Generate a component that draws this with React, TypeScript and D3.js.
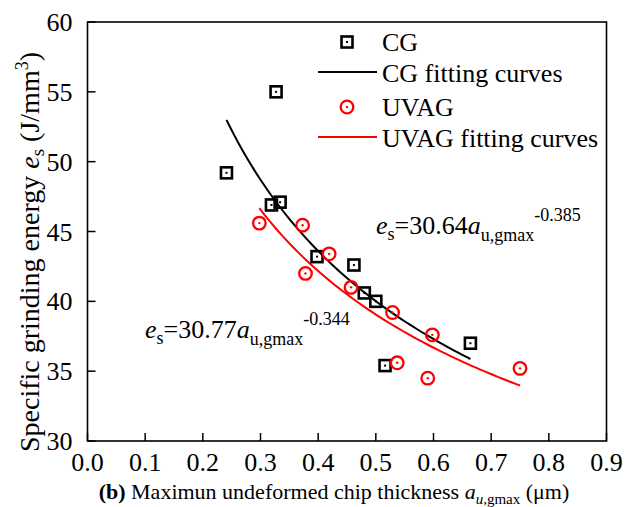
import React from 'react';
import * as d3 from 'd3';

const cgX = [0.241, 0.319, 0.327, 0.334, 0.398, 0.462, 0.48, 0.5, 0.516, 0.664];
const cgY = [49.2, 46.9, 55.0, 47.1, 43.2, 42.6, 40.6, 40.0, 35.4, 37.0];
const uvagX = [0.298, 0.373, 0.378, 0.419, 0.457, 0.529, 0.537, 0.59, 0.598, 0.75];
const uvagY = [45.6, 45.45, 42.0, 43.4, 41.0, 39.2, 35.6, 34.5, 37.6, 35.2];

// power law fits printed on the chart: e_s = k * a^n
const cgFit = {k: 30.64, n: -0.385, from: 0.241, to: 0.664};
const uvagFit = {k: 30.77, n: -0.344, from: 0.298, to: 0.75};

const xTicks = [0, 0.1, 0.2, 0.3, 0.4, 0.5, 0.6, 0.7, 0.8, 0.9];
const yTicks = [30, 35, 40, 45, 50, 55, 60];

const W = 632, H = 507;
const margin = {top: 22, right: 25.5, bottom: 66, left: 87.5};
const font = '"Liberation Serif", "Times New Roman", serif';
const RED = '#ff0000';

const x = d3.scaleLinear().domain([0, 0.9]).range([margin.left, W - margin.right]);
const y = d3.scaleLinear().domain([30, 60]).range([H - margin.bottom, margin.top]);

function fitPath(f: {k: number, n: number, from: number, to: number}) {
    const xs = d3.range(0, 61).map(i => f.from + (f.to - f.from) * i / 60);
    const line = d3.line<number>().x(d => x(d)).y(d => y(f.k * Math.pow(d, f.n)));
    return line(xs) || '';
}

const Square = ({cx, cy}: {cx: number, cy: number}) => (
    <g>
        <rect x={cx - 5.5} y={cy - 5.5} width={11} height={11} fill="none" stroke="#000" strokeWidth={2.6}/>
        <rect x={cx - 1} y={cy - 1} width={2} height={2} fill="#000"/>
    </g>
);

const Circle = ({cx, cy}: {cx: number, cy: number}) => (
    <g>
        <circle cx={cx} cy={cy} r={6.3} fill="none" stroke={RED} strokeWidth={2.3}/>
        <circle cx={cx} cy={cy} r={1.2} fill={RED}/>
    </g>
);

export default function App() {
    const x0 = margin.left, x1 = W - margin.right;
    const y0 = H - margin.bottom, y1 = margin.top;
    return (
        <svg width={W} height={H} style={{position: 'absolute', left: 0, top: 0, background: '#fff'}}
             fontFamily={font}>
            {/* ticks inside the frame, left and bottom only */}
            {xTicks.map(t => (
                <g key={'x' + t}>
                    <line x1={x(t)} x2={x(t)} y1={y0} y2={y0 - 8} stroke="#000" strokeWidth={1.5}/>
                    <text x={x(t)} y={y0 + 30} fontSize={26} textAnchor="middle">{d3.format('.1f')(t)}</text>
                </g>
            ))}
            {yTicks.map(t => (
                <g key={'y' + t}>
                    <line x1={x0} x2={x0 + 8} y1={y(t)} y2={y(t)} stroke="#000" strokeWidth={1.5}/>
                    <text x={x0 - 15} y={y(t) + 9} fontSize={26} textAnchor="end">{t}</text>
                </g>
            ))}
            <rect x={x0} y={y1} width={x1 - x0} height={y0 - y1} fill="none" stroke="#000" strokeWidth={1.6}/>

            {/* fit curves */}
            <path d={fitPath(cgFit)} fill="none" stroke="#000" strokeWidth={2}/>
            <path d={fitPath(uvagFit)} fill="none" stroke={RED} strokeWidth={2}/>

            {cgX.map((v, i) => <Square key={'c' + i} cx={x(v)} cy={y(cgY[i])}/>)}
            {uvagX.map((v, i) => <Circle key={'u' + i} cx={x(v)} cy={y(uvagY[i])}/>)}

            {/* legend */}
            <Square cx={347} cy={42}/>
            <text x={382} y={51} fontSize={26}>CG</text>
            <line x1={318} x2={377} y1={72} y2={72} stroke="#000" strokeWidth={2}/>
            <text x={382} y={82} fontSize={26}>CG fitting curves</text>
            <Circle cx={347} cy={107}/>
            <text x={382} y={116} fontSize={26}>UVAG</text>
            <line x1={318} x2={377} y1={137} y2={137} stroke={RED} strokeWidth={2}/>
            <text x={382} y={147} fontSize={26}>UVAG fitting curves</text>

            {/* fit equations */}
            <text x={376} y={234} fontSize={26}>
                <tspan fontStyle="italic">e</tspan>
                <tspan fontSize={18} dy={6}>s</tspan>
                <tspan dy={-6}>=30.64</tspan>
                <tspan fontStyle="italic">a</tspan>
                <tspan fontSize={18} dy={7}>u,gmax</tspan>
                <tspan fontSize={18} dy={-20}>-0.385</tspan>
            </text>
            <text x={145} y={338} fontSize={26}>
                <tspan fontStyle="italic">e</tspan>
                <tspan fontSize={18} dy={6}>s</tspan>
                <tspan dy={-6}>=30.77</tspan>
                <tspan fontStyle="italic">a</tspan>
                <tspan fontSize={18} dy={7}>u,gmax</tspan>
                <tspan fontSize={18} dy={-20}>-0.344</tspan>
            </text>

            {/* axis titles */}
            <text x={334} y={499} fontSize={22} textAnchor="middle">
                <tspan fontWeight="bold">(b)</tspan>
                <tspan> Maximun undeformed chip thickness </tspan>
                <tspan fontStyle="italic">a</tspan>
                <tspan fontSize={15} dy={5} fontStyle="italic">u,</tspan>
                <tspan fontSize={15}>gmax</tspan>
                <tspan dy={-5}> (μm)</tspan>
            </text>
            <text transform="translate(39, 252) rotate(-90)" fontSize={28} textAnchor="middle">
                <tspan>Specific grinding energy </tspan>
                <tspan fontStyle="italic">e</tspan>
                <tspan fontSize={19} dy={5}>s</tspan>
                <tspan dy={-5}> (J/mm</tspan>
                <tspan fontSize={18} dy={-11}>3</tspan>
                <tspan dy={11}>)</tspan>
            </text>
        </svg>
    );
}
